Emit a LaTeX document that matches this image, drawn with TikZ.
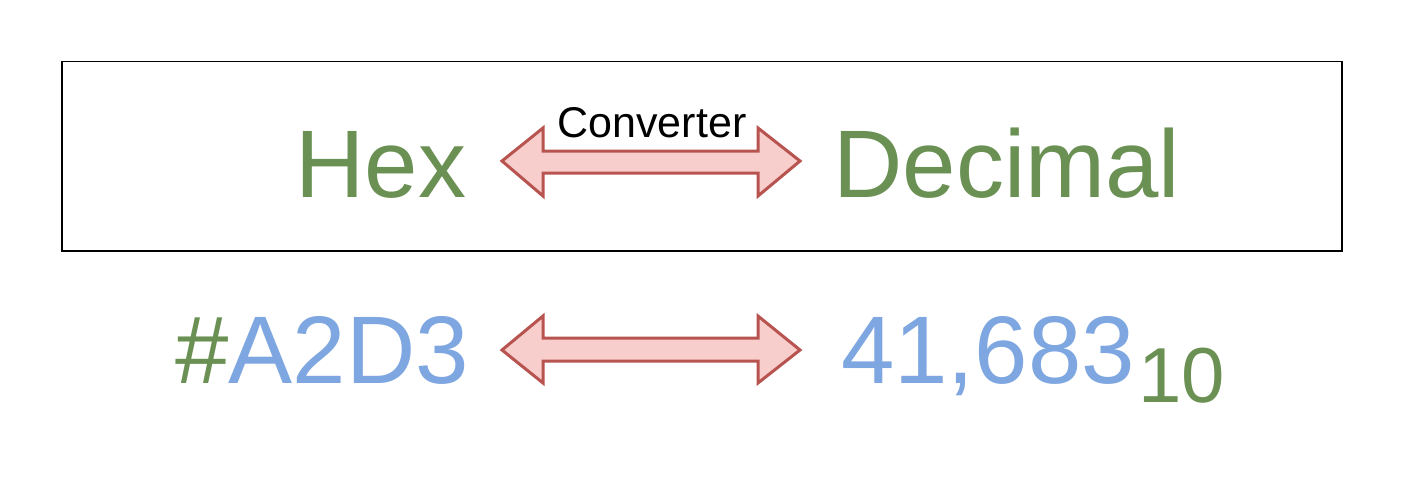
\documentclass[tikz,border=0pt]{standalone}
\usepackage{fontspec}
\setmainfont{Liberation Sans}
\definecolor{tgreen}{HTML}{6A9153}
\definecolor{tblue}{HTML}{7EA6E0}
\definecolor{astroke}{HTML}{B85450}
\definecolor{afill}{HTML}{F8CECC}
\begin{document}
\begin{tikzpicture}[x=1pt,y=-1pt,
  big/.style={inner sep=0pt,anchor=base,font=\fontsize{96}{96}\selectfont},
  dblarrow/.style={draw=astroke,fill=afill,line width=3pt,line join=miter}]
\useasboundingbox (0,0) rectangle (1402,500);
\fill[white] (0,0) rectangle (1402,500);
\node[draw=black,line width=1.5pt,minimum width=1280pt,minimum height=189pt,inner sep=0pt,anchor=north west] (frame) at (61,61) {};
\node[big,text=tgreen] (hex) at (381,197) {Hex};
\node[big,text=tgreen] (dec) at (1007,197) {Decimal};
\node[inner sep=0pt,anchor=base,font=\fontsize{43}{43}\selectfont] (conv) at (652,137) {Converter};
\node[big,anchor=base west] (hexval) at (175,383) {\textcolor{tgreen}{\#}\textcolor{tblue}{A2D3}};
\node[big,anchor=base west,text=tblue] (decval) at (841,383) {41,683};
\node[inner sep=0pt,anchor=base west,text=tgreen,font=\fontsize{78}{78}\selectfont] (base) at (decval.base east) [xshift=3pt,yshift=-19pt] {10};
\draw[dblarrow] (502,161) -- (543,128) -- (543,151) -- (758,151) -- (758,128) -- (800,161) -- (758,196) -- (758,173) -- (543,173) -- (543,196) -- cycle;
\draw[dblarrow] (502,350) -- (543,316) -- (543,338) -- (758,338) -- (758,316) -- (800,350) -- (758,383) -- (758,361) -- (543,361) -- (543,383) -- cycle;
\end{tikzpicture}
\end{document}
